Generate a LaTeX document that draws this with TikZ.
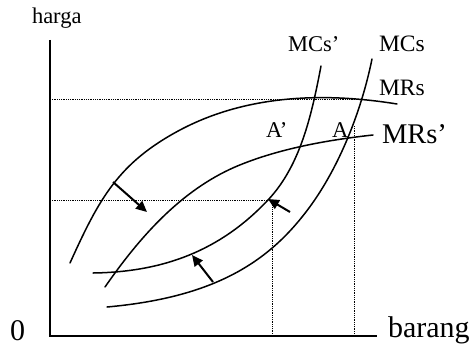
\documentclass[tikz,border=0pt]{standalone}
\usepackage{fontspec}
\setmainfont{Liberation Serif}
\usetikzlibrary{arrows.meta}
\tikzset{
  curve/.style={line width=1.5pt, line cap=round},
  axisline/.style={line width=1.8pt},
  guide/.style={densely dotted, line width=0.8pt},
  shiftarrow/.style={line width=2pt, -{Triangle[length=11pt, width=10pt]}},
  lbl/.style={anchor=base west, inner sep=0pt, outer sep=0pt},
}
\newcommand{\fs}[1]{\fontsize{#1}{#1}\selectfont}
\begin{document}
\begin{tikzpicture}[x=1pt, y=-1pt]
\useasboundingbox (0,0) rectangle (470,345);
% axes
\coordinate (ytop) at (50,40);
\coordinate (orig) at (50,336);
\coordinate (xend) at (377,336);
\draw[axisline] (ytop) -- (orig) -- (xend);
% guide lines
\coordinate (g1a) at (50,99);  \coordinate (g1b) at (363,99);
\coordinate (g2a) at (50,200); \coordinate (g2b) at (267,200);
\coordinate (v1a) at (272,200); \coordinate (v1b) at (272,336);
\coordinate (v2a) at (354,126); \coordinate (v2b) at (354,336);
\draw[guide] (g1a) -- (g1b);
\draw[guide] (g2a) -- (g2b);
\draw[guide] (v1a) -- (v1b);
\draw[guide] (v2a) -- (v2b);
% MRs
\draw[curve] (70,263) .. controls (99,199) and (118,163) .. (180,130)
                      .. controls (246,95) and (323,92) .. (397,104);
% MRs'
\draw[curve] (105,287) .. controls (139,238) and (180,191) .. (235,167)
                       .. controls (277,149) and (327,140) .. (373,135);
% MCs'
\draw[curve] (93,273) .. controls (163,272) and (220,251) .. (268,200)
                      .. controls (301,165) and (312,113) .. (321,66);
% MCs
\draw[curve] (107,307) .. controls (207,298) and (262,267) .. (302,217)
                       .. controls (337,174) and (361,113) .. (372,59);
% arrows
\coordinate (a1s) at (113,182); \coordinate (a1e) at (147,212);
\coordinate (a2s) at (213,282); \coordinate (a2e) at (192,255);
\coordinate (a3s) at (290,212); \coordinate (a3e) at (268,199);
\draw[shiftarrow] (a1s) -- (a1e);
\draw[shiftarrow] (a2s) -- (a2e);
\draw[shiftarrow] (a3s) -- (a3e);
% labels
\node[lbl] (harga) at (32,24) {\fs{22.5}harga};
\node[lbl] (mcsp) at (288,52) {\fs{22.5}MCs’};
\node[lbl] (mcs) at (379,52) {\fs{23.5}MCs};
\node[lbl] (mrs) at (379,95) {\fs{23.5}MRs};
\node[lbl] (mrsp) at (382,143) {\fs{28.5}MRs’};
\node[lbl] (ap) at (266,137) {\fs{22.5}A’};
\node[lbl] (a) at (332,137) {\fs{22.5}A};
\node[lbl] (zero) at (10,340) {\fs{30}0};
\node[lbl] (barang) at (388,337) {\fs{30}barang};
\end{tikzpicture}
\end{document}
